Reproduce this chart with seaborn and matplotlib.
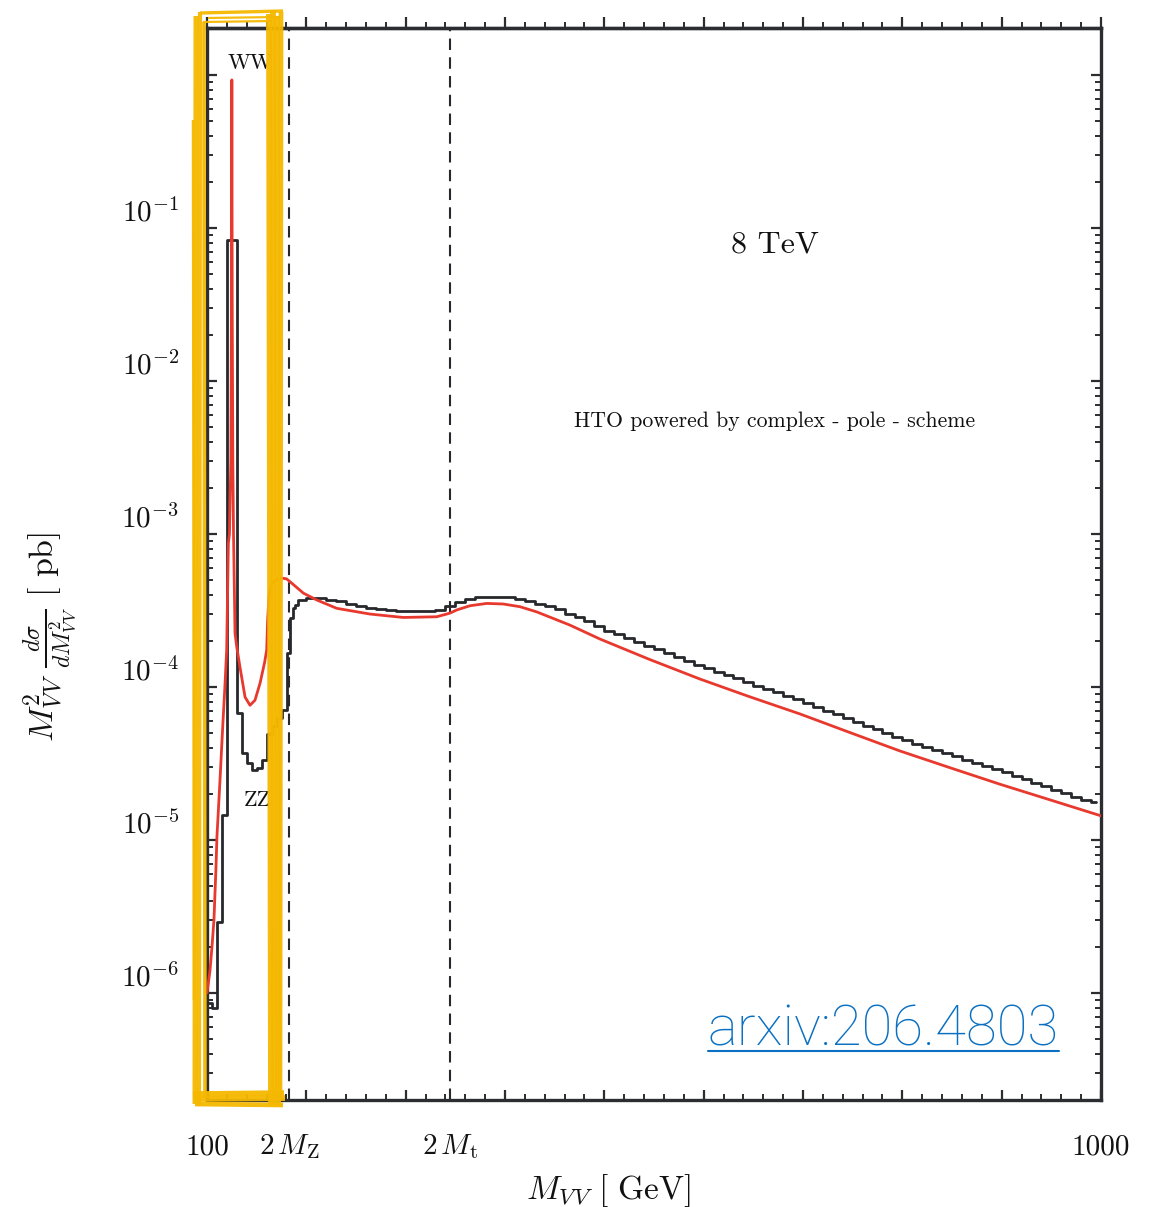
import matplotlib
matplotlib.use("Agg")
import matplotlib.pyplot as plt
import seaborn as sns
import pandas as pd
from matplotlib.ticker import MultipleLocator, LogLocator, NullFormatter
from matplotlib.lines import Line2D

# ---------------------------------------------------------------- data ----
# Complex-pole-scheme lineshape: M_VV [GeV] and M^2 dsigma/dM^2 [pb]
red_mvv = [100.0, 103.0, 105.0, 107.0, 109.0, 110.0, 113.0, 116.0, 118.0,
           119.8, 121.5, 122.6, 124.0, 124.6, 125.0, 125.4, 126.0, 126.7,
           128.2, 130.0, 133.2, 138.3, 143.3, 148.3, 153.4, 158.0, 160.1,
           161.0, 162.5, 165.0, 170.0, 175.0, 180.0, 183.6, 197.0, 210.4,
           230.6, 264.1, 297.6, 331.2, 341.3, 345.0, 351.4, 364.8, 381.6,
           398.3, 415.1, 431.9, 465.4, 495.6, 545.0, 596.0, 645.0, 697.0,
           747.0, 797.7, 848.0, 898.0, 950.0, 1000.0]
red_val = [1.0e-6, 1.4e-6, 2.0e-6, 3.0e-6, 6.5e-6, 1.05e-5, 2.4e-5, 5.8e-5,
           1.0e-4, 1.75e-4, 8.7e-4, 1.0e-3, 3.0e-3, 3.0e-2, 0.93, 3.0e-2,
           3.0e-3, 1.0e-3, 2.25e-4, 1.82e-4, 1.35e-4, 8.6e-5, 7.6e-5, 8.2e-5,
           1.06e-4, 1.45e-4, 1.75e-4, 2.7e-4, 4.0e-4, 4.7e-4, 5.05e-4,
           5.15e-4, 5.1e-4, 4.88e-4, 4.11e-4, 3.71e-4, 3.27e-4, 3.0e-4,
           2.85e-4, 2.88e-4, 3.0e-4, 3.05e-4, 3.19e-4, 3.4e-4, 3.52e-4,
           3.49e-4, 3.35e-4, 3.1e-4, 2.54e-4, 2.06e-4, 1.52e-4, 1.13e-4,
           8.7e-5, 6.67e-5, 5.05e-5, 3.82e-5, 2.97e-5, 2.32e-5, 1.82e-5,
           1.44e-5]

# Binned prediction (black histogram): bin edges [GeV] and contents [pb]
hist_edges = ([100, 105, 110, 115, 120, 125, 130, 135, 140, 145, 150, 155,
               160, 165, 170, 175, 180.5, 183.5, 186.5, 189, 192]
              + list(range(200, 1000, 10)) + [995])
hist_vals = [8.6e-7, 8.0e-7, 2.9e-6, 1.46e-5, 8.3e-2, 8.3e-2, 6.8e-5,
             3.7e-5, 3.2e-5, 2.87e-5, 2.95e-5, 3.33e-5, 4.9e-5, 5.6e-5,
             6.3e-5, 7.1e-5, 1.67e-4, 2.83e-4, 3.28e-4, 3.43e-4, 3.70e-4,
             # 200 - 500
             3.82e-4, 3.82e-4, 3.73e-4, 3.65e-4, 3.49e-4, 3.38e-4, 3.28e-4,
             3.23e-4, 3.19e-4, 3.14e-4, 3.14e-4, 3.14e-4, 3.16e-4, 3.21e-4,
             3.38e-4, 3.59e-4, 3.79e-4, 3.88e-4, 3.88e-4, 3.88e-4, 3.85e-4,
             3.76e-4, 3.65e-4, 3.51e-4, 3.38e-4, 3.23e-4, 3.00e-4, 2.87e-4,
             2.70e-4, 2.50e-4,
             # 500 - 995
             2.34e-4, 2.21e-4, 2.09e-4, 1.97e-4, 1.86e-4, 1.76e-4, 1.66e-4,
             1.57e-4, 1.48e-4, 1.40e-4, 1.33e-4, 1.26e-4, 1.20e-4, 1.14e-4,
             1.08e-4, 1.02e-4, 9.72e-5, 9.22e-5, 8.76e-5, 8.31e-5, 7.86e-5,
             7.42e-5, 7.01e-5, 6.63e-5, 6.26e-5, 5.91e-5, 5.59e-5, 5.28e-5,
             4.99e-5, 4.71e-5, 4.48e-5, 4.27e-5, 4.07e-5, 3.88e-5, 3.70e-5,
             3.52e-5, 3.36e-5, 3.20e-5, 3.05e-5, 2.91e-5, 2.77e-5, 2.63e-5,
             2.49e-5, 2.37e-5, 2.25e-5, 2.14e-5, 2.03e-5, 1.92e-5, 1.83e-5,
             1.77e-5]

# Thresholds
two_MZ = 182.4
two_Mt = 345.0

x_label_pos = [100, two_MZ, two_Mt, 1000]
x_label_txt = ["100", r"$2\,M_{\mathrm{Z}}$", r"$2\,M_{\mathrm{t}}$", "1000"]
y_label_exp = [-1, -2, -3, -4, -5, -6]

# --------------------------------------------------------------- style ----
sns.set_theme(style="white")
plt.rcParams["mathtext.fontset"] = "cm"
plt.rcParams["font.family"] = ["DejaVu Sans"]
plt.rcParams["axes.unicode_minus"] = True

RED = "#E8392E"
INK = "#26282C"
FRAME = "#2B2D31"
GOLD = "#F5B800"
LINK = "#0B70C2"
CM = "cmr10"

W, H = 1154, 1207
fig = plt.figure(figsize=(W / 100, H / 100), dpi=100)
fig.patch.set_facecolor("white")
ax = fig.add_axes([207 / W, 1 - 1100 / H, (1101 - 207) / W, (1100 - 28) / H])
ax.set_facecolor("white")

# ---------------------------------------------------------------- marks ----
df_red = pd.DataFrame({"mvv": red_mvv, "val": red_val})
df_hist = pd.DataFrame({"mvv": hist_edges, "val": hist_vals + [hist_vals[-1]]})

sns.lineplot(data=df_hist, x="mvv", y="val", ax=ax, color=INK, lw=2.0,
             drawstyle="steps-post", sort=False, estimator=None, zorder=3)
sns.lineplot(data=df_red, x="mvv", y="val", ax=ax, color=RED, lw=2.0,
             sort=False, estimator=None, zorder=4)

ax.set_yscale("log")
ax.set_xlim(100, 1000)
ax.set_ylim(2.0e-7, 2.03)

for xv in (two_MZ, two_Mt):
    ax.axvline(xv, color=INK, lw=1.5, ls=(0, (5.5, 3.5)), zorder=2)

# ---------------------------------------------------------------- frame ----
for sp in ax.spines.values():
    sp.set_color(FRAME)
    sp.set_linewidth(2.4)
    sp.set_visible(True)

ax.xaxis.set_major_locator(MultipleLocator(100))
ax.xaxis.set_minor_locator(MultipleLocator(20))
ax.yaxis.set_major_locator(LogLocator(base=10, numticks=20))
ax.yaxis.set_minor_locator(LogLocator(base=10, subs=range(2, 10), numticks=20))
for axis in (ax.xaxis, ax.yaxis):
    axis.set_major_formatter(NullFormatter())
    axis.set_minor_formatter(NullFormatter())

ax.tick_params(axis="both", which="both", direction="in", color=FRAME,
               left=True, right=True, bottom=True, top=False,
               labelleft=False, labelbottom=False)
ax.tick_params(axis="both", which="major", length=7.5, width=1.6)
ax.tick_params(axis="both", which="minor", length=4.0, width=1.4)

top = ax.secondary_xaxis("top")
top.xaxis.set_major_locator(MultipleLocator(100))
top.xaxis.set_minor_locator(MultipleLocator(20))
top.xaxis.set_major_formatter(NullFormatter())
top.xaxis.set_minor_formatter(NullFormatter())
top.spines["top"].set_color(FRAME)
top.spines["top"].set_linewidth(2.4)
top.tick_params(which="both", direction="out", color=FRAME)
top.tick_params(which="major", length=8.0, width=1.6)
top.tick_params(which="minor", length=4.5, width=1.4)

ax.set_xlabel("")
ax.set_ylabel("")

# --------------------------------------------------------------- labels ----
for xv, txt in zip(x_label_pos, x_label_txt):
    kw = dict(family=CM) if not txt.startswith("$") else {}
    ax.annotate(txt, xy=(xv, 0), xycoords=("data", "axes fraction"),
                xytext=(0, -47), textcoords="offset pixels",
                ha="center", va="center", fontsize=21, color="#111", **kw)

for e in y_label_exp:
    ax.annotate(rf"$10^{{{e}}}$", xy=(0, 10.0 ** e),
                xycoords=("axes fraction", "data"),
                xytext=(-28, 7), textcoords="offset pixels",
                ha="right", va="baseline", fontsize=21, color="#111")

VV = r"V\hspace{0.06}V"
fig.text(608 / W, 1 - 1172 / H, rf"$M_{{{VV}}}\ [\ \mathrm{{GeV}}]$",
         ha="center", va="top", fontsize=24, color="#111")
fig.text(50 / W, 1 - 637 / H,
         rf"$M_{{{VV}}}^{{2}}\ \frac{{d\sigma}}{{dM_{{{VV}}}^{{2}}}}\ [\ \mathrm{{pb}}]$",
         rotation=90, ha="center", va="center", fontsize=24.5, color="#111")

fig.text(775 / W, 1 - 245 / H, "8 TeV", family=CM, fontsize=23,
         ha="center", va="center", color="#111")
fig.text(775 / W, 1 - 421 / H, "HTO powered by complex - pole - scheme",
         family=CM, fontsize=15.7, ha="center", va="center", color="#111")
fig.text(250 / W, 1 - 63 / H, "WW", family=CM, fontsize=16,
         ha="center", va="center", color="#111", zorder=1)
fig.text(257 / W, 1 - 800 / H, "ZZ", family=CM, fontsize=16,
         ha="center", va="center", color="#111", zorder=1)

BASE_Y = 1046
link = fig.text(708 / W, 1 - BASE_Y / H, "arxiv:206.4803", family="Roboto",
                fontweight="light", fontsize=40.5, color=LINK,
                ha="left", va="baseline")

# --------------------------------------------------- hand-drawn highlight ----
def fpx(x, y):
    return x / W, 1 - y / H

strokes = [
    # left side
    ([(196, 16), (195, 1104)], 3.6),
    ([(200, 12), (199, 1106)], 3.0),
    ([(204, 22), (205, 1098)], 2.6),
    ([(193, 120), (194, 1000)], 1.8),
    # right side
    ([(269, 14), (271, 1106)], 4.2),
    ([(273, 10), (274, 1104)], 4.2),
    ([(277, 16), (278, 1106)], 4.2),
    ([(281, 12), (280, 1100)], 3.4),
    # bottom
    ([(193, 1094), (284, 1093)], 4.0),
    ([(194, 1099), (285, 1098)], 4.2),
    ([(195, 1104), (283, 1105)], 3.4),
    # top
    ([(200, 13), (283, 11)], 2.4),
    ([(208, 18), (279, 17)], 1.6),
    ([(203, 22), (272, 21)], 1.6),
]
for pts, lw in strokes:
    xs, ys = zip(*[fpx(*p) for p in pts])
    fig.add_artist(Line2D(xs, ys, color=GOLD, lw=lw, alpha=0.95,
                          solid_capstyle="butt", zorder=20))

# underline below the reference tag
fig.canvas.draw()
bb = link.get_window_extent()
y_ul = 1 - (BASE_Y + 5) / H
fig.add_artist(Line2D([bb.x0 / W, bb.x1 / W], [y_ul, y_ul],
                      color=LINK, lw=1.5, zorder=20))

fig.savefig("out.png", dpi=100, facecolor="white")
